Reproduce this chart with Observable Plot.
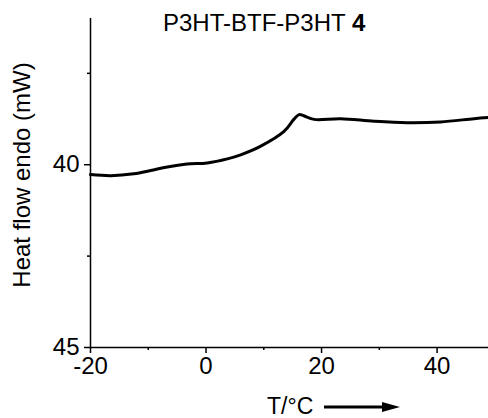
<!DOCTYPE html>
<html>
<head>
<meta charset="utf-8">
<script src="https://cdn.jsdelivr.net/npm/d3@7"></script>
<script src="https://cdn.jsdelivr.net/npm/@observablehq/plot@0.6"></script>
<style>
  html, body { margin: 0; padding: 0; background: #fff; }
  #wrap { position: relative; width: 488px; height: 418px; font-family: 'Liberation Sans', Arial, sans-serif; color: #000; }
  #title { position: absolute; left: 163px; top: 10px; font-size: 24px; line-height: 1.117; white-space: nowrap; }
  #ylab { position: absolute; left: 22px; top: 175px; font-size: 24px; line-height: 1.117; white-space: nowrap; transform: translate(-50%, -50%) rotate(-90deg); }
  #xlab { position: absolute; left: 267px; top: 395px; height: 23px; font-size: 23px; line-height: 23px; white-space: nowrap; display: flex; align-items: center; }
</style>
</head>
<body>
<div id="wrap">
  <div id="chart"></div>
  <div id="title">P3HT-BTF-P3HT <b>4</b></div>
  <div id="ylab">Heat flow endo (mW)</div>
  <div id="xlab"><span>T/°C</span><svg width="80" height="14" style="margin-left:11px"><line x1="0" y1="7" x2="62" y2="7" stroke="#000" stroke-width="3"/><path d="M58,2 L76,7 L58,12 Z" fill="#000"/></svg></div>
</div>
<script>
// Data (temperature in °C, heat flow in mW)
const temperature = [-20, -16.5, -12.5, -9.6, -6.7, -3.3, 0.2, 3.7, 6.0, 9.4, 13.5, 15.2, 16.1, 16.9, 18.7, 23.3, 29.1, 34.8, 40.6, 46.4, 48.9];
const heatFlow    = [40.27, 40.30, 40.25, 40.16, 40.06, 39.98, 39.95, 39.84, 39.73, 39.50, 39.09, 38.76, 38.63, 38.66, 38.76, 38.74, 38.81, 38.85, 38.83, 38.74, 38.71];

const xTicks = [-20, 0, 20, 40];
const xMinorTicks = [-10, 10, 30];
const yTicks = [40, 45];
const yMinorTicks = [37.5, 42.5];
const xDomain = [-20, 48.9];
const yDomain = [36, 45];

const data = temperature.map((t, i) => ({T: t, HF: heatFlow[i]}));

const chart = Plot.plot({
  width: 488,
  height: 418,
  marginLeft: 90,
  marginRight: 0,
  marginTop: 18,
  marginBottom: 71,
  style: {fontFamily: "'Liberation Sans', Arial, sans-serif", fontSize: "24px", color: "#000", background: "#fff", overflow: "visible"},
  x: {domain: xDomain},
  y: {domain: yDomain, reverse: true},
  marks: [
    Plot.ruleX([xDomain[0]], {stroke: "#000", strokeWidth: 1.5}),
    Plot.ruleY([yDomain[1]], {stroke: "#000", strokeWidth: 1.5}),
    Plot.axisX(xTicks, {tickSize: 6, tickPadding: 3, strokeWidth: 1.5, tickFormat: d => String(d), label: null}),
    Plot.axisX(xMinorTicks, {tickSize: 3, strokeWidth: 1.5, tickFormat: () => "", label: null}),
    Plot.axisY(yTicks, {tickSize: 6, tickPadding: 5, strokeWidth: 1.5, tickFormat: d => String(d), label: null}),
    Plot.axisY(yMinorTicks, {tickSize: 3, strokeWidth: 1.5, tickFormat: () => "", label: null}),
    Plot.line(data, {x: "T", y: "HF", stroke: "#000", strokeWidth: 3, curve: "catmull-rom"})
  ]
});
document.getElementById("chart").appendChild(chart);
</script>
</body>
</html>
